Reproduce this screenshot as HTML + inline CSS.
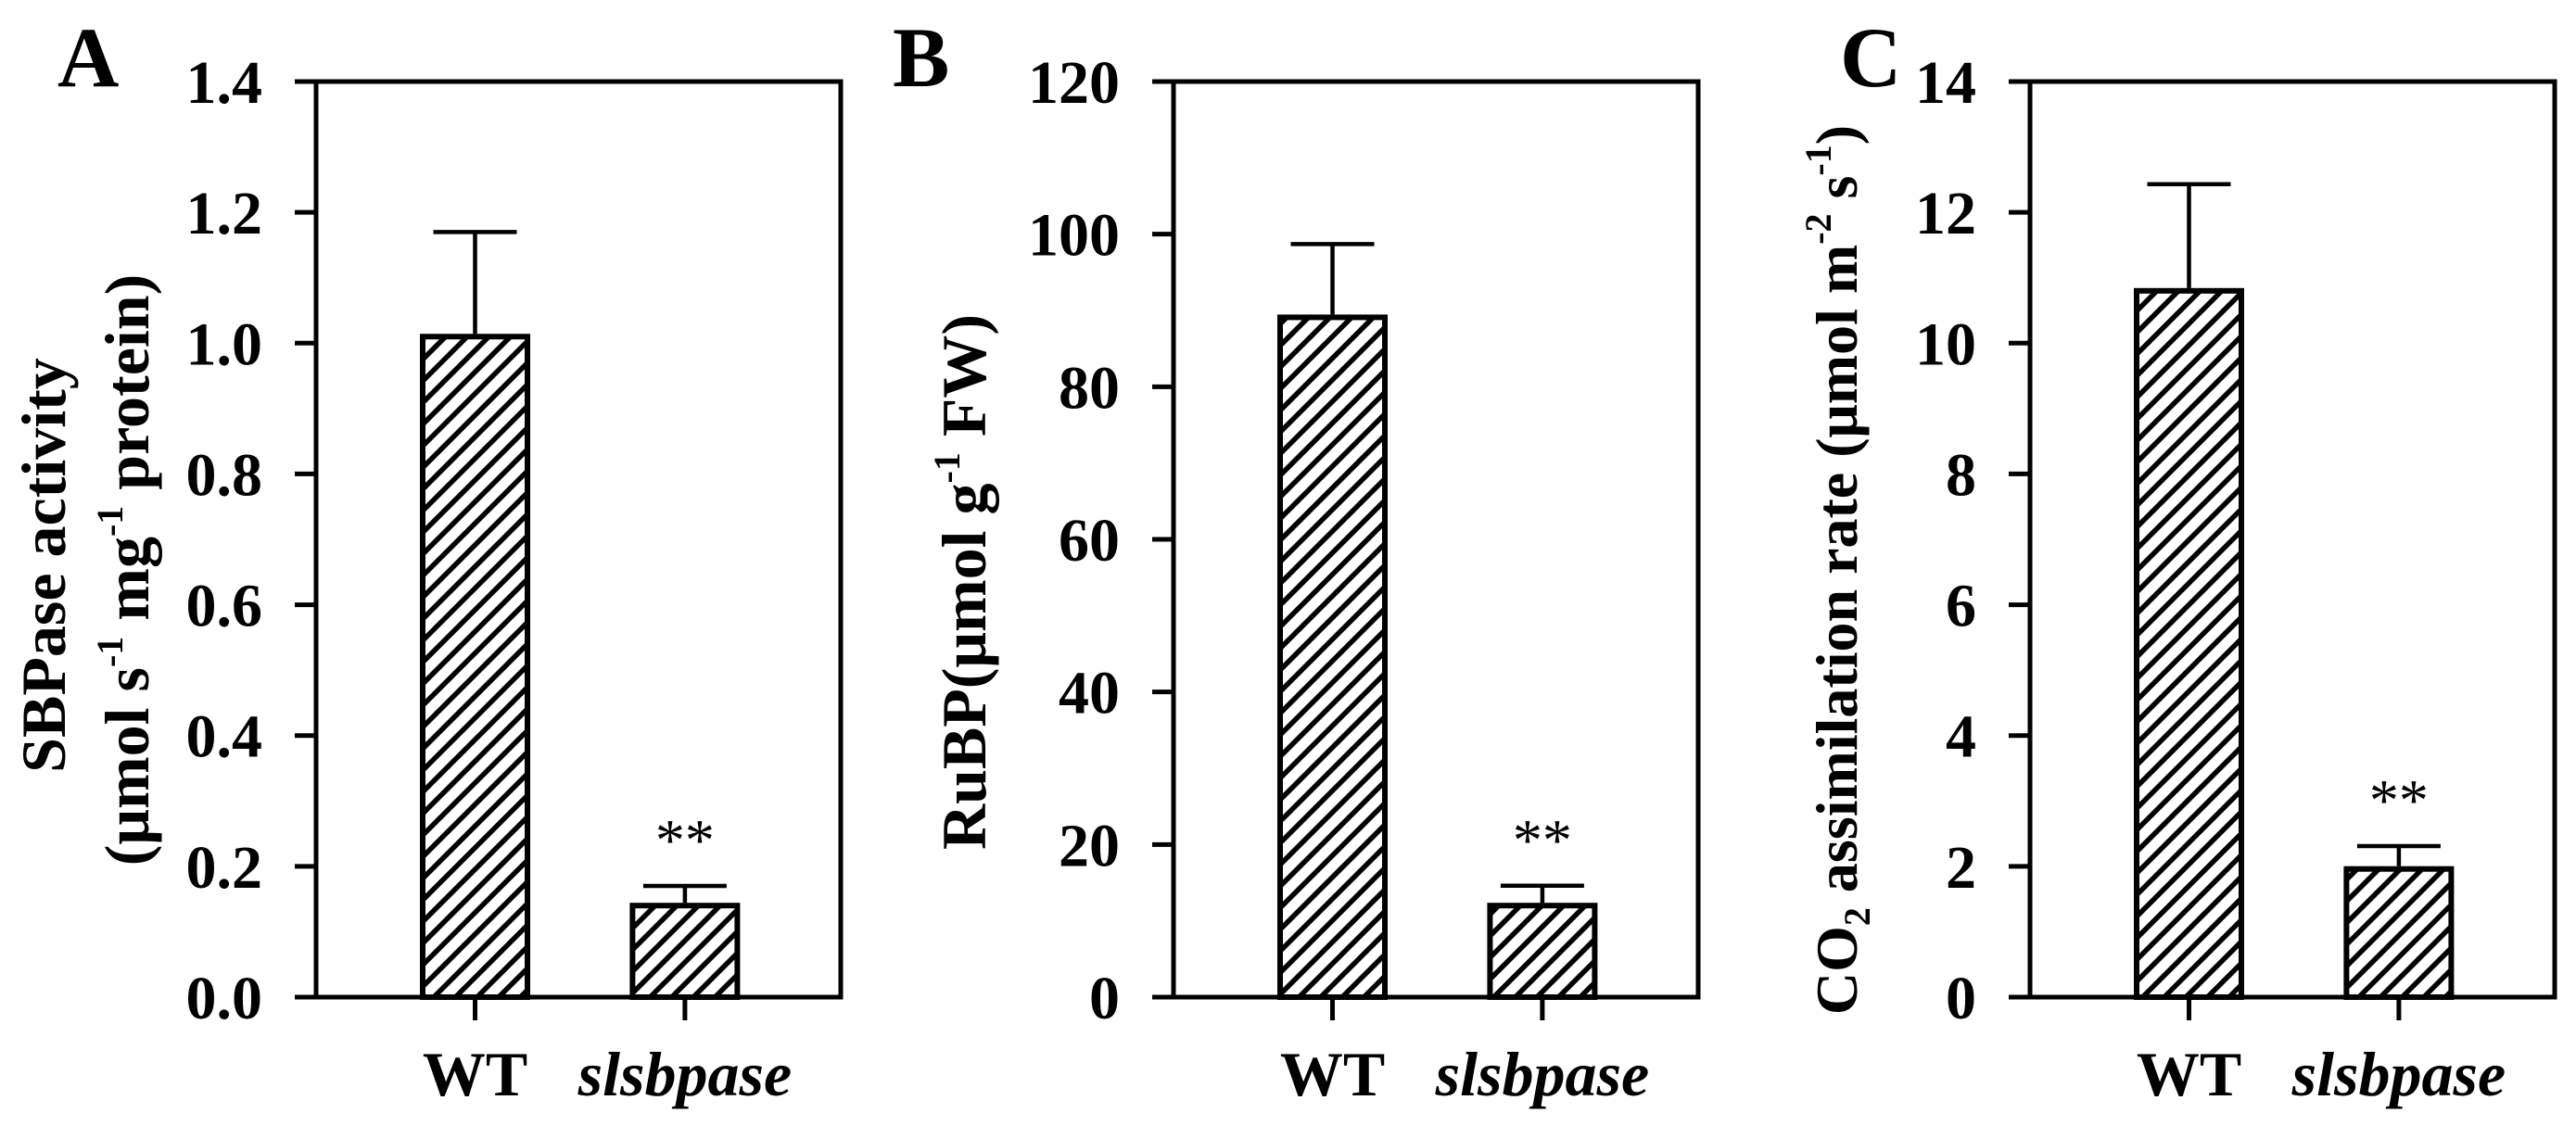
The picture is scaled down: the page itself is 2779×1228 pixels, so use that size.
<!DOCTYPE html>
<html><head><meta charset="utf-8"><style>
html,body{margin:0;padding:0;background:#fff;}
svg{display:block;font-family:"Liberation Serif",serif;}
</style></head><body>
<svg id="fig" width="2779" height="1228" viewBox="0 0 2779 1228" xmlns="http://www.w3.org/2000/svg">
<defs>
<pattern id="hatch" patternUnits="userSpaceOnUse" width="16.5" height="16.5" patternTransform="rotate(45)">
<rect width="16.5" height="16.5" fill="#fff"/>
<rect x="0" y="0" width="5.5" height="16.5" fill="#000"/>
</pattern>
</defs>
</svg>
<script>
const categories = ["WT", "slsbpase"];
const valuesA = [1.01, 0.14];
const errorsA = [0.16, 0.03];
const ticksA = ["0.0","0.2","0.4","0.6","0.8","1.0","1.2","1.4"];
const valuesB = [89.1, 12.0];
const errorsB = [9.6, 2.6];
const ticksB = ["0","20","40","60","80","100","120"];
const valuesC = [10.8, 1.96];
const errorsC = [1.63, 0.35];
const ticksC = ["0","2","4","6","8","10","12","14"];
const sigMarks = ["", "**"];

const NS = "http://www.w3.org/2000/svg";
const svg = document.getElementById("fig");
function mk(tag, attrs, parent, text){
  const e = document.createElementNS(NS, tag);
  for (const k in attrs) e.setAttribute(k, attrs[k]);
  if (text !== undefined) e.textContent = text;
  (parent || svg).appendChild(e);
  return e;
}
const top0 = 88, bot0 = 1076, W = 566;
const catFrac = [0.303, 0.703];
const barW = 113;

function panel(id, x0, ymax, ticks, vals, errs, letter, letterX){
  const g = mk("g", {});
  
  
  const y = v => bot0 - (v / ymax) * (bot0 - top0);
  const x = i => x0 + catFrac[i] * W;
  vals.forEach((v, i) => {
    const b = mk("rect", {x: x(i) - barW/2, y: y(v), width: barW, height: bot0 - y(v), fill: "url(#hatch)", stroke: "#000", "stroke-width": 6}, g);
    
    
    const e = mk("path", {d: `M${x(i)} ${y(v)-3} V${y(v+errs[i])} M${x(i)-45} ${y(v+errs[i])} H${x(i)+45}`, stroke: "#000", "stroke-width": 4.5, fill: "none"}, g);
    
    
    if (sigMarks[i]) {
      const s = mk("text", {x: x(i), y: y(v+errs[i]) - 28, "text-anchor": "middle", "font-size": 64}, g, sigMarks[i]);
      
      
    }
  });
  const f = mk("path", {d: `M${x0-23} ${top0} H${x0+W} V${bot0} H${x0-23} M${x0} ${top0} V${bot0}`, stroke: "#000", "stroke-width": 5, fill: "none"}, g);
  
  
  ticks.forEach((t, k) => {
    const v = ymax * k / (ticks.length - 1);
    const tk = mk("line", {x1: x0-23, x2: x0, y1: y(v), y2: y(v), stroke: "#000", "stroke-width": 5}, g);
    
    
    const tl = mk("text", {x: x0-58, y: y(v)+23, "text-anchor": "end", "font-size": 66, "font-weight": "bold"}, g, t);
    
    
  });
  categories.forEach((c, i) => {
    const tk = mk("line", {x1: x(i), x2: x(i), y1: bot0, y2: bot0+25, stroke: "#000", "stroke-width": 5}, g);
    
    
    const tl = mk("text", {x: x(i), y: 1182, "text-anchor": "middle", "font-size": 68, "font-weight": "bold", "font-style": i ? "italic" : "normal"}, g, c);
    
    
  });
  const L = mk("text", {x: letterX, y: 93, "font-size": 92, "font-weight": "bold"}, g, letter);
  
  
  return g;
}
const gA = panel("a", 341, 1.4, ticksA, valuesA, errorsA, "A", 62);
const gB = panel("b", 1266, 120, ticksB, valuesB, errorsB, "B", 963);
const gC = panel("c", 2190, 14, ticksC, valuesC, errorsC, "C", 1985);

function ytitle(g, cx, cy, html, name, fs){
  const t = mk("text", {transform: `translate(${cx},${cy}) rotate(-90)`, "text-anchor": "middle", "font-size": fs, "font-weight": "bold"}, g);
  t.innerHTML = html;
  
  
}
ytitle(gA, 70, 610, 'SBPase activity', 'y-axis-title-a-line1', 68);
ytitle(gA, 160, 615, '(μmol s<tspan dy="-28" font-size="40">-1</tspan><tspan dy="28"> mg</tspan><tspan dy="-28" font-size="40">-1</tspan><tspan dy="28"> protein)</tspan>', 'y-axis-title-a-line2', 68);
ytitle(gB, 1063, 628, 'RuBP(μmol g<tspan dy="-28" font-size="40">-1</tspan><tspan dy="28"> FW)</tspan>', 'y-axis-title-b', 68);
ytitle(gC, 2003, 615, 'CO<tspan dy="14" font-size="40">2</tspan><tspan dy="-14"> assimilation rate (μmol m</tspan><tspan dy="-28" font-size="40">-2</tspan><tspan dy="28"> s</tspan><tspan dy="-28" font-size="40">-1</tspan><tspan dy="28">)</tspan>', 'y-axis-title-c', 64);
</script>
</body></html>
